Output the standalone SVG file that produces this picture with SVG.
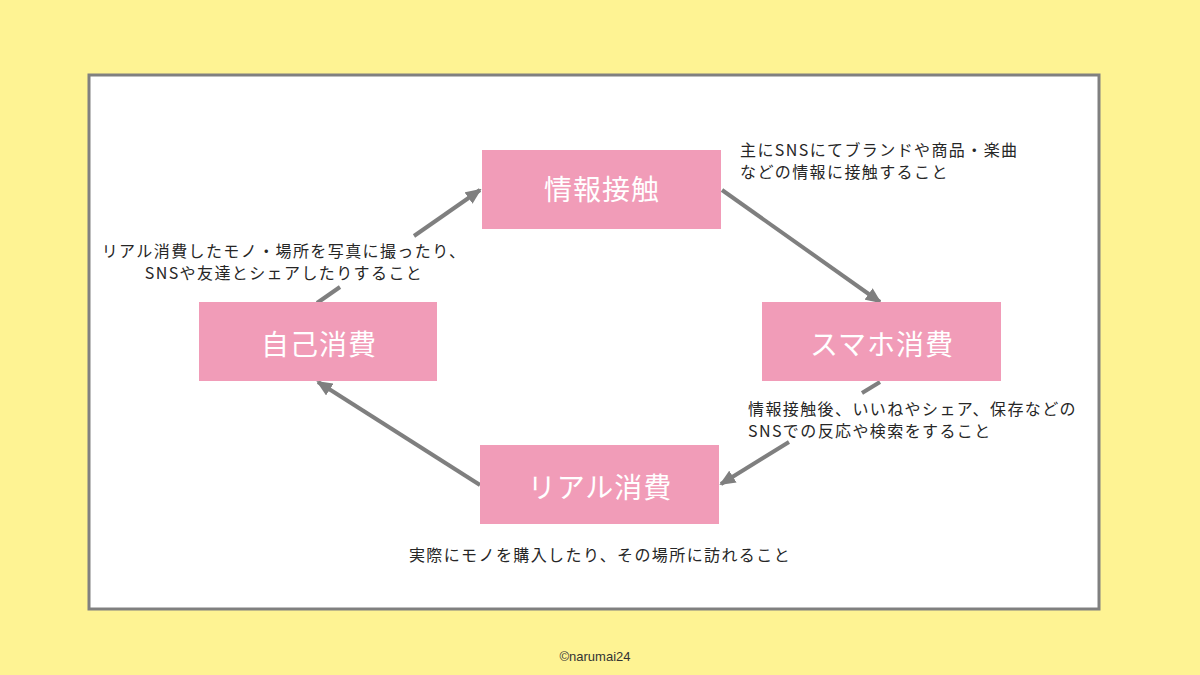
<svg xmlns="http://www.w3.org/2000/svg" width="1200" height="675" viewBox="0 0 1200 675">
<style>
.node{fill:#F19CB8}
.nl{font-family:"Noto Sans CJK JP","Noto Sans",sans-serif;font-size:28px;fill:#FFFFFF;text-anchor:middle;letter-spacing:1px}
.desc{font-family:"Noto Sans CJK JP","Noto Sans",sans-serif;font-size:16px;fill:#262626;letter-spacing:1.4px}
.conn{stroke:#7F7F7F;stroke-width:4;fill:none}
</style>
<defs>
<marker id="ah" markerUnits="userSpaceOnUse" markerWidth="16" markerHeight="14" refX="14" refY="7" orient="auto">
<path d="M0,0 L16,7 L0,14 Z" fill="#7F7F7F"/>
</marker>
</defs>
<rect x="0" y="0" width="1200" height="675" fill="#FEF393"/>
<rect x="89" y="75" width="1010" height="534" fill="#FFFFFF" stroke="#808080" stroke-width="3"/>
<g id="connectors">
<line class="conn" x1="317" y1="303" x2="340" y2="287"/>
<line class="conn" x1="414" y1="236" x2="480" y2="190" marker-end="url(#ah)"/>
<line class="conn" x1="722" y1="190" x2="880" y2="302" marker-end="url(#ah)"/>
<line class="conn" x1="880" y1="382" x2="862" y2="393"/>
<line class="conn" x1="789" y1="442" x2="721" y2="484" marker-end="url(#ah)"/>
<line class="conn" x1="480" y1="485" x2="318" y2="382" marker-end="url(#ah)"/>
</g>
<g id="node-jouhou">
<rect class="node" x="482" y="150" width="239" height="79"/>
<text class="nl" x="602" y="200">情報接触</text>
</g>
<g id="node-sumaho">
<rect class="node" x="762" y="302" width="239" height="79"/>
<text class="nl" x="882" y="355">スマホ消費</text>
</g>
<g id="node-real">
<rect class="node" x="480" y="445" width="239" height="79"/>
<text class="nl" x="600" y="498">リアル消費</text>
</g>
<g id="node-jiko">
<rect class="node" x="199" y="302" width="238" height="79"/>
<text class="nl" x="319" y="355">自己消費</text>
</g>
<g id="labels">
<text class="desc" x="740" y="156">主にSNSにてブランドや商品・楽曲</text>
<text class="desc" x="740" y="178">などの情報に接触すること</text>
<text class="desc" x="284" y="257" text-anchor="middle">リアル消費したモノ・場所を写真に撮ったり、</text>
<text class="desc" x="284" y="279" text-anchor="middle">SNSや友達とシェアしたりすること</text>
<text class="desc" x="748" y="415">情報接触後、いいねやシェア、保存などの</text>
<text class="desc" x="748" y="437">SNSでの反応や検索をすること</text>
<text class="desc" x="600" y="561" text-anchor="middle">実際にモノを購入したり、その場所に訪れること</text>
<text x="595" y="661" text-anchor="middle" font-family="Liberation Sans, Arial, sans-serif" font-size="13" fill="#333333">©narumai24</text>
</g>
</svg>
